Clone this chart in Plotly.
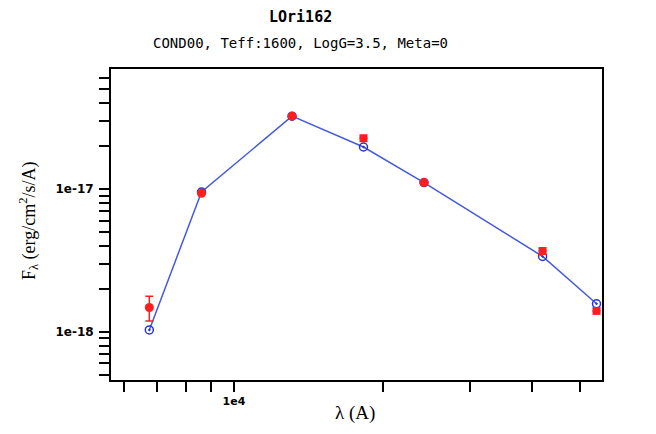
import plotly.graph_objects as go

# ---- data ----
wavelength = [6744, 8597, 13098, 18263, 24200, 42010, 53990]          # Angstrom
obs_flux = [1.48e-18, 9.33e-18, 3.24e-17, 2.27e-17, 1.11e-17, 3.68e-18, 1.40e-18]
obs_err = [0.29e-18, None, None, None, None, None, None]
model_flux = [1.03e-18, 9.53e-18, 3.24e-17, 1.97e-17, 1.11e-17, 3.37e-18, 1.57e-18]

x_major_vals = [10000]
x_major_text = ["1e4"]
x_minor_vals = [6000, 7000, 8000, 9000, 20000, 30000, 40000, 50000]
y_major_vals = [1e-18, 1e-17]
y_major_text = ["1e-18", "1e-17"]
y_decades = [-19, -18, -17]

title_text = "LOri162"
subtitle_text = "COND00, Teff:1600, LogG=3.5, Meta=0"

# ---- layout geometry (page has an 8px body margin) ----
W, H = 656, 434
OFF = 8
L, R, T, B = 111, 602, 69, 380   # target plot-area edges in screen pixels
x_range = [3.7515, 4.7434]
y_range = [-18.338, -16.159]

y_minor_vals = [m * 10.0 ** d for d in y_decades for m in range(2, 10)]

obs_symbol = ["circle", "circle", "circle", "square", "circle", "square", "square"]
obs_size = [9, 9, 9, 8, 9, 8, 8]

fig = go.Figure()
fig.add_trace(go.Scatter(
    x=wavelength, y=model_flux, mode="lines+markers",
    line=dict(color="rgb(70,90,225)", width=1.5),
    marker=dict(symbol="circle-open-dot", size=8, color="rgb(40,55,200)",
                line=dict(width=1.5, color="rgb(40,55,200)")),
    showlegend=False, name="model"))
fig.add_trace(go.Scatter(
    x=wavelength, y=obs_flux, mode="markers",
    marker=dict(symbol=obs_symbol, size=obs_size, color="rgb(255,30,30)",
                opacity=1, line=dict(width=0)),
    error_y=dict(type="data", array=obs_err, visible=True, color="rgb(255,30,30)",
                 thickness=1.5, width=4),
    showlegend=False, name="observed"))

def px_x(p):
    return (p - L) / (R - L)

def px_y(p):
    return (B - p) / (B - T)

axis_common = dict(showline=True, linecolor="black", linewidth=2, mirror=True,
                   ticks="outside", ticklen=10, tickwidth=1.5, tickcolor="black",
                   showgrid=False, zeroline=False)
minor_common = dict(ticks="outside", ticklen=10, tickwidth=1.5, tickcolor="black",
                    showgrid=False, tickmode="array")

fig.update_xaxes(type="log", range=x_range, tickmode="array",
                 tickvals=x_major_vals, ticktext=x_major_text,
                 minor=dict(tickvals=x_minor_vals, **minor_common),
                 tickfont=dict(family="DejaVu Sans", size=11, color="black", weight="bold"),
                 **axis_common)
fig.update_yaxes(type="log", range=y_range, tickmode="array",
                 tickvals=y_major_vals, ticktext=y_major_text, ticklabelstandoff=3,
                 minor=dict(tickvals=y_minor_vals, **minor_common),
                 tickfont=dict(family="DejaVu Sans", size=12, color="black", weight="bold"),
                 **axis_common)

fig.update_layout(
    width=W, height=H, autosize=False,
    margin=dict(l=L - OFF, r=W + OFF - R, t=T - OFF, b=H + OFF - B, pad=0),
    paper_bgcolor="white", plot_bgcolor="white",
    annotations=[
        dict(text="<b>" + title_text + "</b>", x=px_x(300), y=px_y(17), xref="paper", yref="paper",
             showarrow=False, xanchor="center", yanchor="middle", borderpad=0,
             font=dict(family="DejaVu Sans Mono", size=15, color="black")),
        dict(text=subtitle_text, x=px_x(300), y=px_y(43), xref="paper", yref="paper",
             showarrow=False, xanchor="center", yanchor="middle",
             font=dict(family="DejaVu Sans Mono", size=14, color="black")),
        dict(text="λ (A)", x=px_x(355), y=px_y(413), xref="paper", yref="paper",
             showarrow=False, xanchor="center", yanchor="middle",
             font=dict(family="Liberation Serif", size=19, color="black")),
        dict(text="F<sub>λ</sub> (erg/cm<sup>2</sup>/s/A)", x=px_x(28), y=px_y(221),
             xref="paper", yref="paper", textangle=-90,
             showarrow=False, xanchor="center", yanchor="middle",
             font=dict(family="Liberation Serif", size=18, color="black")),
    ],
)

fig.write_html("out.html")
